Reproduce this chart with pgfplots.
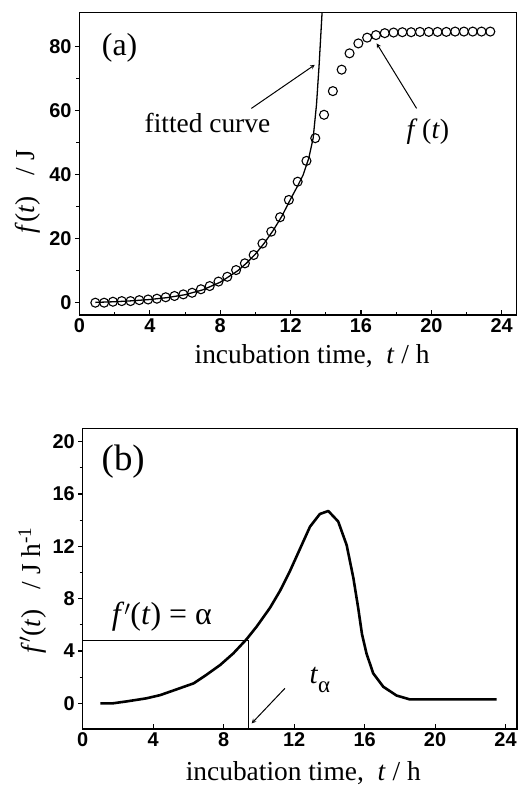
\documentclass[border=0pt]{standalone}
\usepackage{pgfplots}
\pgfplotsset{compat=1.18}
\usepackage{fontspec}
\setmainfont{Liberation Serif}
\newfontfamily\ticksf{Liberation Sans}

\pgfplotstableread{
t v
0.9 0.0
1.4 0.0
1.9 0.3
2.4 0.5
2.9 0.5
3.4 0.8
3.9 1.0
4.4 1.25
4.9 1.7
5.4 2.1
5.9 2.6
6.4 3.1
6.9 4.2
7.4 5.2
7.9 6.6
8.4 8.1
8.9 10.2
9.4 12.3
9.9 14.9
10.4 18.5
10.9 22.2
11.4 26.7
11.9 32.1
12.4 37.8
12.9 44.3
13.4 51.4
13.9 58.7
14.4 66.1
14.9 72.8
15.35 77.9
15.85 81.0
16.35 82.8
16.85 83.6
17.35 84.2
17.85 84.4
18.35 84.5
18.85 84.5
19.35 84.6
19.85 84.6
20.35 84.6
20.85 84.6
21.35 84.7
21.85 84.7
22.35 84.7
22.85 84.7
23.35 84.7
}\dataA

\pgfplotstableread{
t v
0.9 0.1
2 0.3
3 0.6
4 1.0
5 1.6
6 2.5
7 4.0
8 6.4
9 10.0
9.5 12.4
10 15.2
10.5 18.6
11 22.5
11.5 27.0
12 32.4
12.43 36.8
12.71 39.9
13.03 45.1
13.28 51.4
13.47 61.8
13.62 74.3
13.79 90.9
13.82 95
}\fitA

\pgfplotstableread{
t v
1.0 0
1.7 0
2.5 0.15
3.6 0.38
4.4 0.63
5.5 1.15
6.3 1.53
7.0 2.16
7.8 2.93
8.55 3.82
9.3 4.9
9.87 5.86
10.63 7.3
11.2 8.6
11.76 10.1
12.33 11.8
12.9 13.5
13.46 14.47
13.94 14.7
14.5 13.9
14.98 12.1
15.36 9.6
15.64 7.26
15.85 5.3
16.11 3.8
16.49 2.29
17.06 1.27
17.81 0.6
18.57 0.3
20 0.3
23.5 0.3
}\dataB

\pgfplotsset{
 myax/.style={
  scale only axis,
  axis line style={line width=1.5pt},
  tick style={black, line width=1.1pt},
  major tick length=4.5bp, minor tick length=3bp,
  xtick align=inside, ytick align=outside,
  xtick pos=lower, ytick pos=left,
  tick label style={font=\ticksf\bfseries\fontsize{20}{20}\selectfont},
  /pgf/number format/assume math mode=true,
  label style={font=\fontsize{27.5}{29}\selectfont},
  xtick={0,4,...,24},
 }
}

\begin{document}
\begin{tikzpicture}
\useasboundingbox (0,0) rectangle (518bp,787bp);
% ---------- panel (a)
\begin{axis}[myax,
  at={(79.5bp,472bp)}, width=437.2bp, height=302.3bp,
  xmin=0, xmax=24.85, ymin=-3.84, ymax=90.6,
  ytick={0,20,...,80},
  minor x tick num=1, minor y tick num=1,
  xlabel={incubation time,\ \ \textit{t} / h},
  xlabel style={at={(axis description cs:0.532,-0.16)}, anchor=base},
  ylabel={\textit{f}(\textit{t})\ \ \ / J},
  ylabel style={at={(axis description cs:-0.102,0.408)}, anchor=base, rotate=0},
]
\addplot[black, line width=1.3pt] table[x=t,y=v] {\fitA};
\addplot[only marks, mark=o, mark size=4.5bp, mark options={line width=1.1pt, black}] table[x=t,y=v] {\dataA};
\node[font=\fontsize{32}{34}\selectfont] at (axis cs:2.28,79.5) {(a)};
\node[font=\fontsize{27.5}{29}\selectfont] at (axis cs:7.27,56) {fitted curve};
\draw[->, >=stealth, line width=1pt] (axis cs:9.77,60.7) -- (axis cs:13.37,74.3);
\node[font=\fontsize{28}{30}\selectfont] at (axis cs:19.8,53.4) {\textit{f}\,(\textit{t})};
\draw[->, >=stealth, line width=1pt] (axis cs:19.16,60.7) -- (axis cs:16.89,81);
\end{axis}
% ---------- panel (b)
\begin{axis}[myax,
  at={(82.7bp,58bp)}, width=434.3bp, height=300.7bp,
  xmin=0, xmax=24.65, ymin=-1.96, ymax=21.02,
  ytick={0,4,...,20},
  minor y tick num=1,
  xlabel={incubation time,\ \ \textit{t} / h},
  xlabel style={at={(axis description cs:0.508,-0.17)}, anchor=base},
  ylabel={\textit{f}$'$(\textit{t})\ \ \ / J h\textsuperscript{-1}},
  ylabel style={at={(axis description cs:-0.098,0.462)}, anchor=base, rotate=0},
]
\addplot[black, line width=0.9pt] coordinates {(0,4.84) (9.4,4.84) (9.4,-1.96)};
\addplot[black, line width=2.6pt, line join=round] table[x=t,y=v] {\dataB};
\node[font=\fontsize{37}{39}\selectfont] at (axis cs:2.3,18.5) {(b)};
\node[font=\fontsize{32}{34}\selectfont] at (axis cs:4.49,6.62) {\textit{f}$'$(\textit{t}) = α};
\node[font=\fontsize{29}{31}\selectfont] at (axis cs:13.46,1.78) {\textit{t}\raisebox{-0.3em}{\fontsize{23}{25}\selectfont α}};
\draw[->, >=stealth, line width=1pt] (axis cs:11.48,1.15) -- (axis cs:9.59,-1.53);
\end{axis}
\end{tikzpicture}
\end{document}
